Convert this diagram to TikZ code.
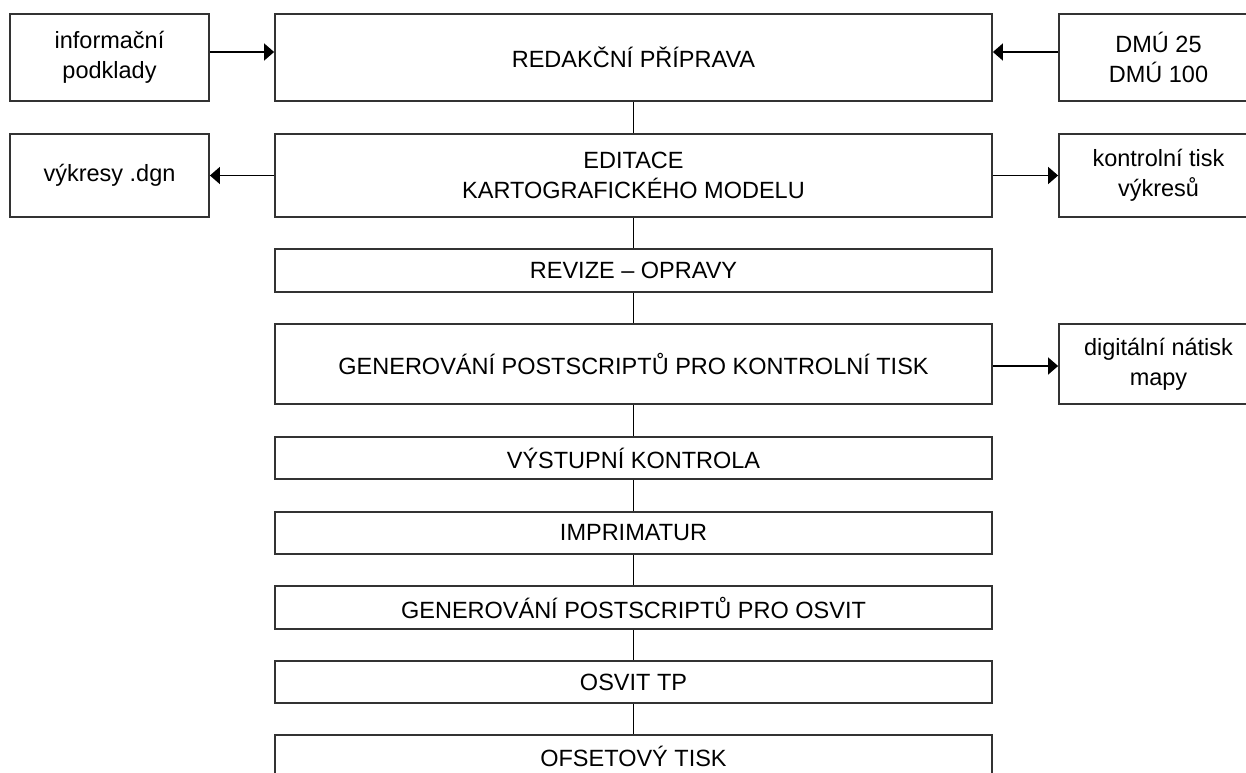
\documentclass[tikz,border=0pt]{standalone}
\usepackage{fontspec}
\setmainfont{Liberation Sans}
\usetikzlibrary{arrows.meta}
\tikzset{
  box/.style={draw=black!80, line width=1.8pt, fill=white, inner sep=0pt,
    align=center, font=\fontsize{23.5}{30}\selectfont, text=black},
  mainbox/.style={box, minimum width=717pt},
  sidebox/.style={box, minimum width=199pt},
  link/.style={draw=black, line width=1.5pt},
  arr/.style={link, -{Triangle[length=10pt,width=17pt]}}
}
\begin{document}
\begin{tikzpicture}[x=1pt,y=-1pt]
\clip (0,0) rectangle (1246,772);
\fill[white] (0,0) rectangle (1246,772);

% main chain
\node[mainbox, minimum height=87pt] (redakce) at (633.5,57.5) {REDAKČNÍ PŘÍPRAVA};
\node[mainbox, minimum height=83pt] (editace) at (633.5,175.5) {EDITACE\\KARTOGRAFICKÉHO MODELU};
\node[mainbox, minimum height=43pt] (revize) at (633.5,270.5) {REVIZE – OPRAVY};
\node[mainbox, minimum height=80pt] (genkt) at (633.5,364) {GENEROVÁNÍ POSTSCRIPTŮ PRO KONTROLNÍ TISK};
\node[mainbox, minimum height=42pt] (vystup) at (633.5,458) {VÝSTUPNÍ KONTROLA};
\node[mainbox, minimum height=42pt] (imprim) at (633.5,533) {IMPRIMATUR};
\node[mainbox, minimum height=43pt] (genosv) at (633.5,607.5) {GENEROVÁNÍ POSTSCRIPTŮ PRO OSVIT};
\node[mainbox, minimum height=42pt] (osvit) at (633.5,682) {OSVIT TP};
\node[mainbox, minimum height=43pt] (ofset) at (633.5,756.5) {OFSETOVÝ TISK};

% side boxes
\node[sidebox, minimum height=87pt] (info) at (109.5,57.5) {informační\\podklady};
\node[sidebox, minimum height=83pt] (vykresy) at (109.5,175.5) {výkresy .dgn};
\node[sidebox, minimum height=87pt] (dmu) at (1158.5,57.5) {DMÚ 25\\DMÚ 100};
\node[sidebox, minimum height=83pt] (kontrol) at (1158.5,175.5) {kontrolní tisk\\výkresů};
\node[sidebox, minimum height=80pt] (digital) at (1158.5,364) {digitální nátisk\\mapy};

% vertical links
\draw[link] (redakce) -- (editace);
\draw[link] (editace) -- (revize);
\draw[link] (revize) -- (genkt);
\draw[link] (genkt) -- (vystup);
\draw[link] (vystup) -- (imprim);
\draw[link] (imprim) -- (genosv);
\draw[link] (genosv) -- (osvit);
\draw[link] (osvit) -- (ofset);

% horizontal arrows
\draw[arr] ([yshift=5.5pt]info.east) -- ([yshift=5.5pt]redakce.west);
\draw[arr] ([yshift=5.5pt]dmu.west) -- ([yshift=5.5pt]redakce.east);
\draw[arr] (editace.west) -- (vykresy.east);
\draw[arr] (editace.east) -- (kontrol.west);
\draw[arr] ([yshift=-2pt]genkt.east) -- ([yshift=-2pt]digital.west);
\end{tikzpicture}
\end{document}
